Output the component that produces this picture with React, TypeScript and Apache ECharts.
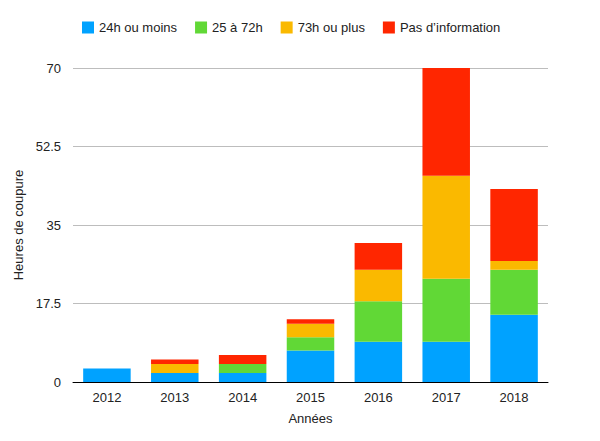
import React, { useEffect, useRef } from "react";
import * as echarts from "echarts";

const years = ["2012", "2013", "2014", "2015", "2016", "2017", "2018"];
const seriesNames = ["24h ou moins", "25 à 72h", "73h ou plus", "Pas d’information"];
const h24 = [3, 2, 2, 7, 9, 9, 15];
const h25to72 = [0, 0, 2, 3, 9, 14, 10];
const h73plus = [0, 2, 0, 3, 7, 23, 2];
const noInfo = [0, 1, 2, 1, 6, 24, 16];
const colors = ["#00A2FF", "#61D836", "#FAB900", "#FF2600"];

export default function App() {
  const ref = useRef<HTMLDivElement>(null);
  useEffect(() => {
    if (!ref.current) return;
    const chart = echarts.init(ref.current, undefined, { renderer: "svg" });
    const data = [h24, h25to72, h73plus, noInfo];
    const font = "'Liberation Sans', Arial, Helvetica, sans-serif";
    chart.setOption({
      animation: false,
      textStyle: { fontFamily: font },
      legend: {
        top: 16,
        left: 77,
        itemWidth: 12,
        itemHeight: 12,
        itemGap: 18,
        icon: "rect",
        textStyle: { fontSize: 13, color: "#222", fontFamily: font },
        data: seriesNames,
      },
      grid: { left: 73, right: 52, top: 68, bottom: 59 },
      xAxis: {
        type: "category",
        data: years,
        name: "Années",
        nameLocation: "middle",
        nameGap: 30,
        nameTextStyle: { fontSize: 13, color: "#222", fontFamily: font },
        axisLine: { lineStyle: { color: "#000", width: 1 } },
        axisTick: { show: false },
        axisLabel: { fontSize: 13, color: "#222", margin: 9, fontFamily: font },
      },
      yAxis: {
        type: "value",
        min: 0,
        max: 70,
        interval: 17.5,
        name: "Heures de coupure",
        nameLocation: "middle",
        nameGap: 47,
        nameTextStyle: { fontSize: 13, color: "#222", fontFamily: font },
        axisLine: { show: false },
        axisTick: { show: false },
        axisLabel: { fontSize: 13, color: "#222", margin: 12, fontFamily: font },
        splitLine: { lineStyle: { color: "#BDBDBD", width: 1 } },
      },
      series: seriesNames.map((name, i) => ({
        name,
        type: "bar",
        stack: "total",
        data: data[i],
        barWidth: "70%",
        itemStyle: { color: colors[i] },
      })),
    });
    return () => chart.dispose();
  }, []);
  return <div ref={ref} style={{ width: 600, height: 441, position: "absolute", left: 0, top: 0 }} />;
}
